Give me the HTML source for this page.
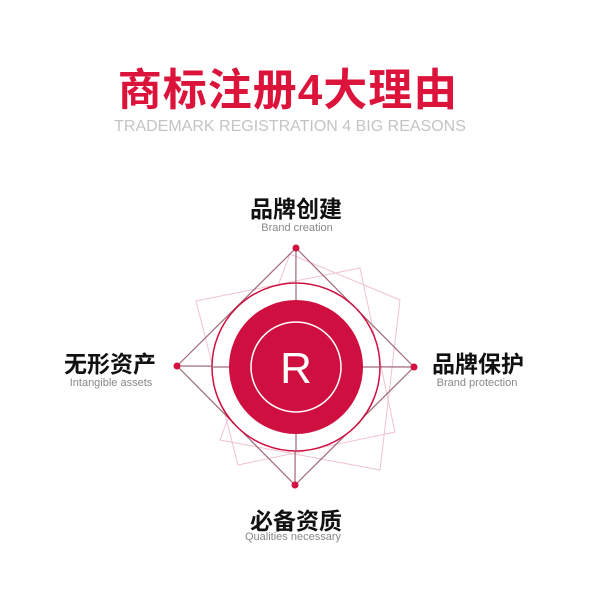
<!DOCTYPE html>
<html><head><meta charset="utf-8"><style>
body{margin:0;width:600px;height:600px;background:#fff;position:relative;overflow:hidden;font-family:"Liberation Sans","Noto Sans CJK SC",sans-serif}
.t{position:absolute;white-space:nowrap;transform:translateX(-50%)}
.cn{font-weight:bold;font-size:23px;color:#111}
.en{font-size:11px;color:#888}
</style></head><body>
<div class="t" style="left:288px;top:54px;font-size:44px;font-weight:bold;color:#dc143c;letter-spacing:1px">商标注册4大理由</div>
<div class="t" style="left:290px;top:118px;font-size:16px;color:#c4c4c4">TRADEMARK REGISTRATION 4 BIG REASONS</div>
<svg style="position:absolute;left:0;top:0" width="600" height="600">
<g fill="none" stroke="#efc4ce" stroke-width="1">
<polygon points="196,301 360,268 395,432 238,465"/>
<polygon points="290,254 400,300 380,470 220,440"/>
</g>
<g stroke="#a06a78" stroke-width="1.2" fill="none">
<polygon points="296,248 414,367 295,485 177,366"/>
<line x1="296" y1="248" x2="295" y2="485"/>
<line x1="177" y1="366" x2="414" y2="367"/>
</g>
<circle cx="296" cy="367" r="84" fill="#fff" stroke="#d01040" stroke-width="1.5"/>
<line x1="212" y1="367" x2="380" y2="367" stroke="#a06a78" stroke-width="1.2"/>
<line x1="296" y1="283" x2="296" y2="451" stroke="#a06a78" stroke-width="1.2"/>
<circle cx="296" cy="367" r="67" fill="#cf0f3f"/>
<circle cx="296" cy="367" r="45" fill="none" stroke="#fff" stroke-width="1.5"/>
<text x="296" y="383" font-size="44" fill="#fff" text-anchor="middle" font-family="Liberation Sans">R</text>
<g fill="#d3103f"><circle cx="296" cy="248" r="3.5"/><circle cx="414" cy="367" r="3.5"/><circle cx="295" cy="485" r="3.5"/><circle cx="177" cy="366" r="3.5"/></g>
</svg>
<div class="t cn" style="left:296px;top:190px">品牌创建</div>
<div class="t en" style="left:297px;top:222px">Brand creation</div>
<div class="t cn" style="left:110px;top:345px">无形资产</div>
<div class="t en" style="left:111px;top:377px">Intangible assets</div>
<div class="t cn" style="left:478px;top:345px">品牌保护</div>
<div class="t en" style="left:477px;top:377px">Brand protection</div>
<div class="t cn" style="left:296px;top:502px">必备资质</div>
<div class="t en" style="left:293px;top:531px">Qualities necessary</div>
</body></html>
